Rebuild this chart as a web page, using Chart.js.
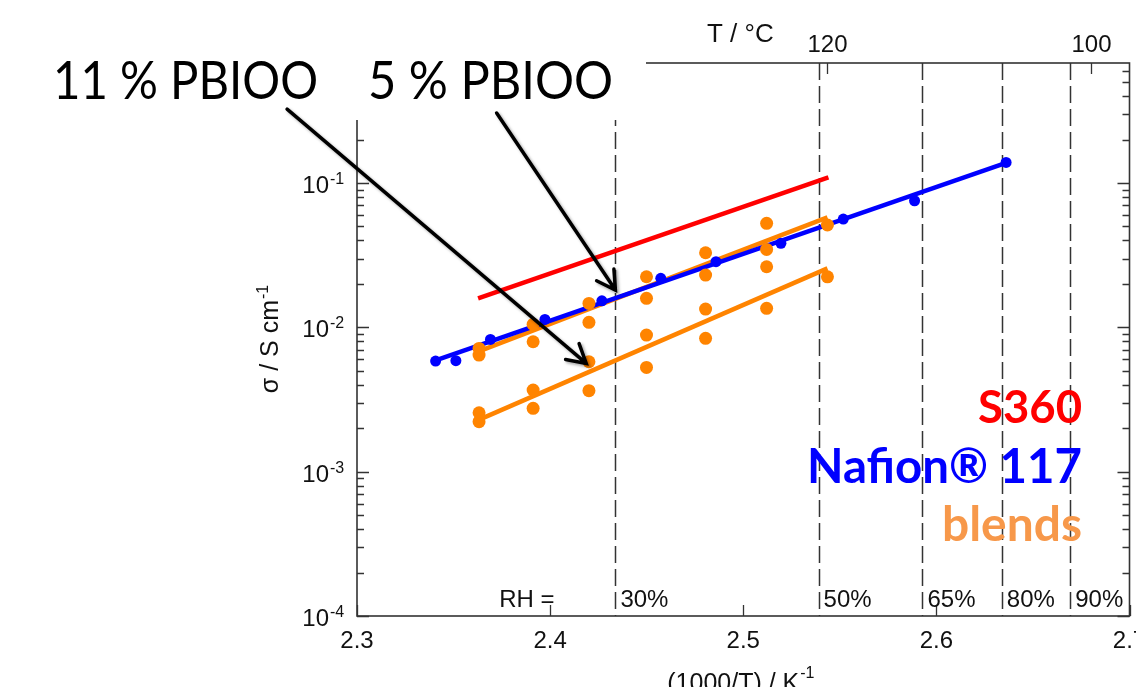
<!DOCTYPE html>
<html><head><meta charset="utf-8">
<script src="https://cdn.jsdelivr.net/npm/chart.js@4.4.1/dist/chart.umd.min.js"></script>
<style>html,body{margin:0;padding:0;background:#fff;overflow:hidden}#wrap{width:1136px;height:687px;position:relative}canvas{display:block}</style>
</head><body><div id="wrap"><canvas id="c" width="1136" height="687"></canvas></div>
<script>
// ---------- data ----------
const nafionX = [2.3407, 2.3512, 2.3691, 2.3973, 2.4268, 2.4573, 2.4859, 2.5195, 2.5518, 2.5887, 2.6361];
const nafionY = [0.00584, 0.00588, 0.00825, 0.01136, 0.01528, 0.02186, 0.0285, 0.0382, 0.0563, 0.0754, 0.139];

const pbi5X = [2.3632, 2.3632, 2.3912, 2.3912, 2.4201, 2.4201, 2.4499, 2.4499, 2.4805, 2.4805, 2.5121, 2.5121, 2.5436];
const pbi5Y = [0.00715, 0.00643, 0.0105, 0.00795, 0.01466, 0.01083, 0.02242, 0.01589, 0.0329, 0.02304, 0.0526, 0.0347, 0.0512];

const pbi11X = [2.3632, 2.3632, 2.3912, 2.3912, 2.4201, 2.4201, 2.4499, 2.4499, 2.4805, 2.4805, 2.5121, 2.5121, 2.5436];
const pbi11Y = [0.00256, 0.00222, 0.00368, 0.00275, 0.00578, 0.00364, 0.00884, 0.00528, 0.01338, 0.00839, 0.0263, 0.01354, 0.0224];

// linear fits (end points)
const s360FitX = [2.3627, 2.5441];
const s360FitY = [0.01589, 0.1095];
const nafionFitX = [2.3407, 2.6361];
const nafionFitY = [0.0059, 0.138];
const pbi5FitX = [2.3627, 2.5436];
const pbi5FitY = [0.00678, 0.0578];
const pbi11FitX = [2.3627, 2.5436];
const pbi11FitY = [0.002278, 0.02563];

// axes
const xMin = 2.3, xMax = 2.7;
const xTickValues = [2.3, 2.4, 2.5, 2.6, 2.7];
const yMin = 1e-4, yMax = 0.679;
const yDecades = [1e-4, 1e-3, 1e-2, 1e-1];
const yDecadeExp = ['-4', '-3', '-2', '-1'];
const tempLabels = ['120', '100'];
const tempX = [2.5436, 2.6799];

// relative humidity boundaries
const rhX = [2.4338, 2.5390, 2.5928, 2.6339, 2.6693];
const rhLabels = ['30%', '50%', '65%', '80%', '90%'];

// arrows: [start x, start y, tip x, tip y] in data units
const arrow11 = [2.2638, 0.3257, 2.4187, 0.00563];
const arrow5  = [2.3723, 0.3055, 2.4338, 0.01814];

// ---------- colours / fonts ----------
const BLUE = '#0000FF', RED = '#FF0000', ORANGE = '#FF8400', LEGORANGE = '#F7984A';
const AXIS = '#333333';
const SANS = '"Liberation Sans", Arial, Helvetica, sans-serif';
const HUM = 'Lato, "Open Sans", sans-serif';

const pts = (xs, ys) => xs.map((v, i) => ({x: v, y: ys[i]}));

function fitText(ctx, text, x, y, font, targetW, align, color) {
  ctx.save();
  ctx.font = font;
  ctx.fillStyle = color;
  const w = ctx.measureText(text).width;
  ctx.translate(x, y);
  ctx.scale(targetW / w, 1);
  ctx.textAlign = align;
  ctx.textBaseline = 'alphabetic';
  ctx.fillText(text, 0, 0);
  ctx.restore();
}

function arrow(ctx, x, y, a) {
  const x0 = x.getPixelForValue(a[0]), y0 = y.getPixelForValue(a[1]);
  const x1 = x.getPixelForValue(a[2]), y1 = y.getPixelForValue(a[3]);
  const ang = Math.atan2(y1 - y0, x1 - x0);
  const L = 21, spread = 0.52;
  ctx.beginPath();
  ctx.moveTo(x0, y0); ctx.lineTo(x1, y1);
  ctx.moveTo(x1 - L * Math.cos(ang - spread), y1 - L * Math.sin(ang - spread));
  ctx.lineTo(x1, y1);
  ctx.lineTo(x1 - L * Math.cos(ang + spread), y1 - L * Math.sin(ang + spread));
  ctx.stroke();
}

const deco = {
  id: 'deco',
  beforeDatasetsDraw(chart) {
    const {ctx, chartArea: a, scales: {x, y}} = chart;
    ctx.save();
    // RH dashed lines
    ctx.strokeStyle = AXIS; ctx.lineWidth = 1.5; ctx.setLineDash([17, 6]);
    rhX.forEach(v => {
      const px = Math.round(x.getPixelForValue(v)) + 0.5;
      ctx.beginPath(); ctx.moveTo(px, a.top); ctx.lineTo(px, a.bottom); ctx.stroke();
    });
    ctx.setLineDash([]);
    // frame
    ctx.strokeStyle = AXIS; ctx.lineWidth = 1.6;
    ctx.strokeRect(a.left, a.top, a.right - a.left, a.bottom - a.top);
    // y ticks (log, inward, both sides)
    ctx.lineWidth = 1.3;
    yDecades.concat([1]).forEach(d => {
      for (let m = 1; m < 10; m++) {
        const v = m * d;
        if (v < yMin || v > yMax) continue;
        const py = Math.round(y.getPixelForValue(v)) + 0.5;
        const len = m === 1 ? 12 : 7;
        ctx.beginPath();
        ctx.moveTo(a.left, py); ctx.lineTo(a.left + len, py);
        ctx.moveTo(a.right, py); ctx.lineTo(a.right - len, py);
        ctx.stroke();
      }
    });
    // x ticks inward
    xTickValues.forEach(v => {
      const px = Math.round(x.getPixelForValue(v)) + 0.5;
      ctx.beginPath(); ctx.moveTo(px, a.bottom); ctx.lineTo(px, a.bottom - 11); ctx.stroke();
    });
    // top temperature axis ticks + labels
    ctx.fillStyle = '#111';
    ctx.font = '24px ' + SANS; ctx.textAlign = 'center'; ctx.textBaseline = 'alphabetic';
    tempX.forEach((v, i) => {
      const px = Math.round(x.getPixelForValue(v)) + 0.5;
      ctx.beginPath(); ctx.moveTo(px, a.top); ctx.lineTo(px, a.top + 11); ctx.stroke();
      ctx.fillText(tempLabels[i], px, a.top - 11);
    });
    ctx.font = '26px ' + SANS;
    ctx.fillText('T / °C', x.getPixelForValue(2.4985), 42);
    // y tick labels with superscript exponent
    yDecades.forEach((v, i) => {
      const py = y.getPixelForValue(v);
      ctx.textAlign = 'right'; ctx.font = '24px ' + SANS;
      ctx.fillText('10', a.left - 28, py + 10);
      ctx.textAlign = 'left'; ctx.font = '16px ' + SANS;
      ctx.fillText(yDecadeExp[i], a.left - 27, py + 1);
    });
    // y axis title
    ctx.save();
    ctx.translate(a.left - 79, (a.top + a.bottom) / 2);
    ctx.rotate(-Math.PI / 2);
    ctx.font = '25px ' + SANS;
    const t1 = 'σ / S cm', w1 = ctx.measureText(t1).width;
    ctx.font = '16px ' + SANS;
    const w2 = ctx.measureText('-1').width;
    ctx.textAlign = 'left';
    ctx.font = '25px ' + SANS; ctx.fillText(t1, -(w1 + w2) / 2, 0);
    ctx.font = '16px ' + SANS; ctx.fillText('-1', -(w1 + w2) / 2 + w1 + 1, -10);
    ctx.restore();
    // x axis title
    ctx.font = '25px ' + SANS;
    const xt = '(1000/T) / K', xw1 = ctx.measureText(xt).width;
    ctx.font = '16px ' + SANS;
    const xw2 = ctx.measureText('-1').width;
    const xc = x.getPixelForValue(2.4985);
    ctx.textAlign = 'left';
    ctx.font = '25px ' + SANS; ctx.fillText(xt, xc - (xw1 + xw2) / 2, 691);
    ctx.font = '16px ' + SANS; ctx.fillText('-1', xc - (xw1 + xw2) / 2 + xw1 + 1, 678);
    // RH labels
    ctx.font = '24px ' + SANS;
    ctx.textAlign = 'right';
    ctx.fillText('RH =', x.getPixelForValue(2.4023), a.bottom - 9);
    ctx.textAlign = 'left';
    rhX.forEach((v, i) => ctx.fillText(rhLabels[i], x.getPixelForValue(v) + 5, a.bottom - 9));
    ctx.restore();
  },
  afterDatasetsDraw(chart) {
    const {ctx, scales: {x, y}} = chart;
    ctx.save();
    // white label box covering the top-left corner
    ctx.fillStyle = '#fff';
    ctx.fillRect(0, 0, 646, 120);
    // annotation labels
    fitText(ctx, '11 % PBIOO', 53, 99, '53px ' + HUM, 265, 'left', '#000');
    fitText(ctx, '5 % PBIOO', 368, 99, '53px ' + HUM, 245, 'left', '#000');
    // arrows
    ctx.strokeStyle = '#000'; ctx.lineWidth = 3.5; ctx.lineCap = 'round'; ctx.lineJoin = 'miter';
    ctx.shadowColor = 'rgba(0,0,0,0.35)'; ctx.shadowBlur = 3; ctx.shadowOffsetX = 2; ctx.shadowOffsetY = 2;
    arrow(ctx, x, y, arrow11);
    arrow(ctx, x, y, arrow5);
    ctx.shadowColor = 'transparent';
    // legend
    fitText(ctx, 'S360', 1082, 423, 'bold 46px ' + HUM, 104, 'right', RED);
    fitText(ctx, 'Nafion® 117', 1082, 483, 'bold 47px ' + HUM, 275, 'right', BLUE);
    fitText(ctx, 'blends', 1082, 541, 'bold 47px ' + HUM, 140, 'right', LEGORANGE);
    ctx.restore();
  }
};

const lineDS = (label, xs, ys, color) => ({
  label, data: pts(xs, ys), showLine: true, borderColor: color, borderWidth: 4.5,
  pointRadius: 0, pointHoverRadius: 0, fill: false, order: 2
});
const pointDS = (label, xs, ys, color, r) => ({
  label, data: pts(xs, ys), showLine: false, backgroundColor: color, borderWidth: 0,
  pointRadius: r, pointHoverRadius: r, order: 1
});

new Chart(document.getElementById('c'), {
  type: 'scatter',
  data: {
    datasets: [
      lineDS('S360 fit', s360FitX, s360FitY, RED),
      lineDS('Nafion 117 fit', nafionFitX, nafionFitY, BLUE),
      lineDS('5 % PBIOO fit', pbi5FitX, pbi5FitY, ORANGE),
      lineDS('11 % PBIOO fit', pbi11FitX, pbi11FitY, ORANGE),
      pointDS('Nafion 117', nafionX, nafionY, BLUE, 5.5),
      pointDS('5 % PBIOO', pbi5X, pbi5Y, ORANGE, 6.5),
      pointDS('11 % PBIOO', pbi11X, pbi11Y, ORANGE, 6.5)
    ]
  },
  options: {
    responsive: false,
    animation: false,
    devicePixelRatio: 1,
    layout: {padding: {left: 357, right: 5, top: 63, bottom: 0}},
    plugins: {legend: {display: false}, tooltip: {enabled: false}},
    scales: {
      x: {
        type: 'linear', min: xMin, max: xMax,
        grid: {display: false, drawTicks: false},
        border: {display: false},
        afterBuildTicks: s => { s.ticks = xTickValues.map(v => ({value: v})); },
        afterFit: s => { s.height = 71; s.paddingLeft = 0; s.paddingRight = 0; },
        ticks: {
          autoSkip: false, maxRotation: 0, padding: 11, color: '#111',
          font: {family: SANS, size: 24},
          callback: v => Number(v).toFixed(1)
        }
      },
      y: {
        type: 'logarithmic', min: yMin, max: yMax, display: false
      }
    }
  },
  plugins: [deco]
});
</script>
</body></html>
